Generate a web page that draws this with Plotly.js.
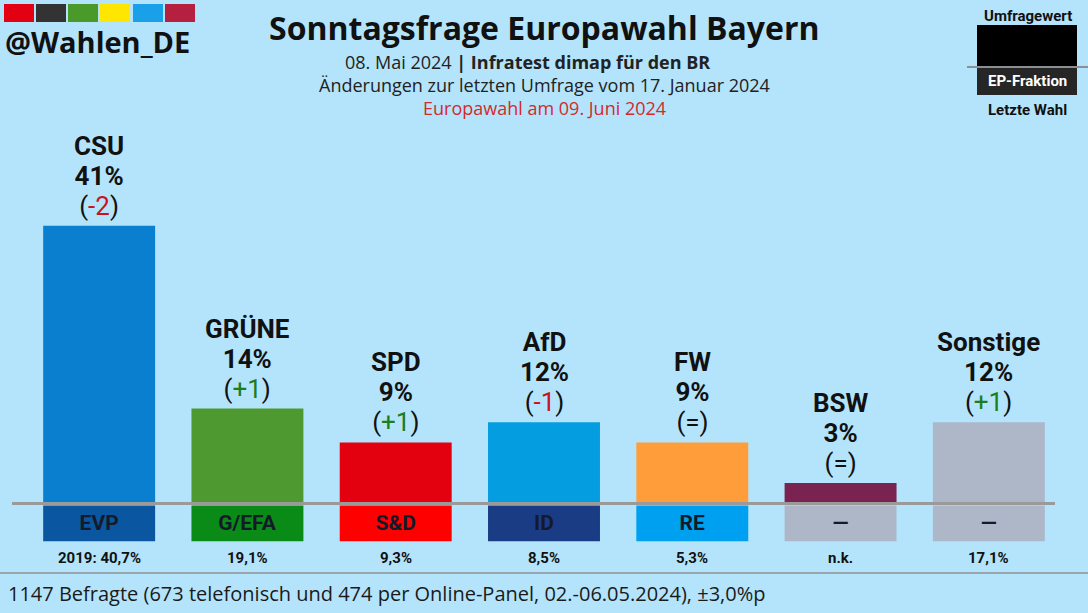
<!DOCTYPE html>
<html>
<head>
<meta charset="utf-8">
<script src="https://cdn.plot.ly/plotly-3.0.1.min.js"></script>
<style>html,body{margin:0;padding:0;background:#b4e4fb;}#chart{width:1088px;height:613px;}</style>
</head>
<body>
<div id="chart"></div>
<script>
// ---- data ----
const parties = ["CSU", "GRÜNE", "SPD", "AfD", "FW", "BSW", "Sonstige"];
const values = [41, 14, 9, 12, 9, 3, 12];
const changes = ["-2", "+1", "+1", "-1", "=", "=", "+1"];
const fractions = ["EVP", "G/EFA", "S&D", "ID", "RE", "—", "—"];
const lastElection = ["2019: 40,7%", "19,1%", "9,3%", "8,5%", "5,3%", "n.k.", "17,1%"];

// ---- styles ----
const barColors = ["#0a7fcf", "#4f9a30", "#e3000f", "#049ee0", "#ff9d3a", "#7a2250", "#adb7c8"];
const fracColors = ["#0b56a0", "#0a8a16", "#ff0000", "#1a3c84", "#00a0f0", "#adb7c8", "#adb7c8"];
const BG = "#b4e4fb";
const W = 1088, H = 613;
const L = 25, R = 25, T = 102, B = 69;
const PW = W - L - R, PH = H - T - B;
const px = x => (x - L) / PW;
const py = y => (H - B - y) / PH;
const boxBase = -0.3, boxDepth = -5.3;

function changeText(c) {
  let inner;
  if (c.startsWith("+")) inner = `<span style="color:#1b7d1b">${c}</span>`;
  else if (c.startsWith("-")) inner = `<span style="color:#c8141e">${c}</span>`;
  else inner = c;
  return `<span style="font-size:26px;font-weight:400">(${inner})</span>`;
}

const traces = [
  {
    type: "bar", x: parties, y: values,
    marker: {color: barColors, line: {width: 0}},
    hoverinfo: "skip", showlegend: false
  },
  {
    type: "bar", x: parties, y: parties.map(() => boxDepth), base: boxBase,
    marker: {color: fracColors, line: {width: 0}},
    text: fractions, textposition: "inside", insidetextanchor: "middle",
    textfont: {family: "Roboto", size: 21, weight: 700, color: "#141a2a"},
    textangle: 0, constraintext: "none",
    hoverinfo: "skip", showlegend: false
  }
];

const annotations = [];
parties.forEach((p, i) => {
  annotations.push({
    x: p, y: values[i], xref: "x", yref: "y", yanchor: "bottom", xanchor: "center",
    yshift: 3, showarrow: false, align: "center",
    text: `<span style="font-size:26px"><b>${p}</b></span><br><span style="font-size:26px"><b>${values[i]}%</b></span><br>${changeText(changes[i])}`,
    font: {family: "Roboto", size: 23, color: "#111111"}
  });
  annotations.push({
    x: p, y: boxBase + boxDepth, xref: "x", yref: "y", yanchor: "top", xanchor: "center",
    yshift: -6, showarrow: false,
    text: `<b>${lastElection[i]}</b>`,
    font: {family: "Roboto", size: 15, color: "#111111"}
  });
});

// header texts
annotations.push(
  {xref: "paper", yref: "paper", x: px(544), y: py(28), xanchor: "center", yanchor: "middle", showarrow: false,
   text: "<b>Sonntagsfrage Europawahl Bayern</b>", font: {family: "Open Sans", size: 32, color: "#111111"}},
  {xref: "paper", yref: "paper", x: px(527), y: py(62), xanchor: "center", yanchor: "middle", showarrow: false,
   text: "08. Mai 2024 <b>| Infratest dimap für den BR</b>", font: {family: "Open Sans", size: 18, color: "#222222"}},
  {xref: "paper", yref: "paper", x: px(544), y: py(85), xanchor: "center", yanchor: "middle", showarrow: false,
   text: "Änderungen zur letzten Umfrage vom 17. Januar 2024", font: {family: "Open Sans", size: 18, color: "#222222"}},
  {xref: "paper", yref: "paper", x: px(544), y: py(108), xanchor: "center", yanchor: "middle", showarrow: false,
   text: "Europawahl am 09. Juni 2024", font: {family: "Open Sans", size: 18, color: "#d42a2a"}},
  {xref: "paper", yref: "paper", x: px(3), y: py(41), xanchor: "left", yanchor: "middle", showarrow: false,
   text: "<b>@Wahlen_DE</b>", font: {family: "Open Sans", size: 29, color: "#111111"}},
  {xref: "paper", yref: "paper", x: px(1028), y: py(16), xanchor: "center", yanchor: "middle", showarrow: false,
   text: "<b>Umfragewert</b>", font: {family: "Roboto", size: 15, color: "#111111"}},
  {xref: "paper", yref: "paper", x: px(1027), y: py(81), xanchor: "center", yanchor: "middle", showarrow: false,
   text: "<b>EP-Fraktion</b>", font: {family: "Roboto", size: 15, color: "#ffffff"}},
  {xref: "paper", yref: "paper", x: px(1027), y: py(110), xanchor: "center", yanchor: "middle", showarrow: false,
   text: "<b>Letzte Wahl</b>", font: {family: "Roboto", size: 15, color: "#111111"}},
  {xref: "paper", yref: "paper", x: px(6), y: py(593), xanchor: "left", yanchor: "middle", showarrow: false,
   text: "1147 Befragte (673 telefonisch und 474 per Online-Panel, 02.-06.05.2024), ±3,0%p",
   font: {family: "Open Sans", size: 20, color: "#1a1a1a"}}
);

const shapes = [];
// logo squares
const logoColors = ["#e30013", "#333333", "#4a9a2a", "#ffe600", "#1aa0e8", "#b52040"];
const logoX = [4, 36, 68, 100, 133, 165];
logoColors.forEach((c, i) => shapes.push({
  type: "rect", xref: "paper", yref: "paper", x0: px(logoX[i]), x1: px(logoX[i] + 30), y0: py(4), y1: py(22),
  fillcolor: c, line: {width: 0}, layer: "above"
}));
// legend box
shapes.push(
  {type: "rect", xref: "paper", yref: "paper", x0: px(977), x1: px(1077), y0: py(25), y1: py(67), fillcolor: "#000000", line: {width: 0}},
  {type: "rect", xref: "paper", yref: "paper", x0: px(977), x1: px(1077), y0: py(67), y1: py(95), fillcolor: "#262626", line: {width: 0}},
  {type: "line", xref: "paper", yref: "paper", x0: px(967), x1: px(1088), y0: py(67), y1: py(67), line: {color: "#8a8f94", width: 2}},
  // baseline
  {type: "line", xref: "paper", yref: "y", x0: px(12), x1: px(1055), y0: 0, y1: 0, line: {color: "#9a9a9a", width: 3}, layer: "above"},
  // footer separator
  {type: "line", xref: "paper", yref: "paper", x0: px(0), x1: px(1088), y0: py(573), y1: py(573), line: {color: "#9aa6ae", width: 2}}
);

const layout = {
  width: W, height: H,
  margin: {l: L, r: R, t: T, b: B, pad: 0},
  paper_bgcolor: BG, plot_bgcolor: BG,
  barmode: "overlay", bargap: 0.245,
  showlegend: false,
  xaxis: {type: "category", range: [-0.5, 6.5], showticklabels: false, showgrid: false, zeroline: false, showline: false, ticks: "", fixedrange: true},
  yaxis: {range: [-6, 59.3], showticklabels: false, showgrid: false, zeroline: false, showline: false, ticks: "", fixedrange: true},
  annotations: annotations,
  shapes: shapes,
  font: {family: "Roboto"}
};

Plotly.newPlot("chart", traces, layout, {staticPlot: true, displayModeBar: false});
</script>
</body>
</html>
